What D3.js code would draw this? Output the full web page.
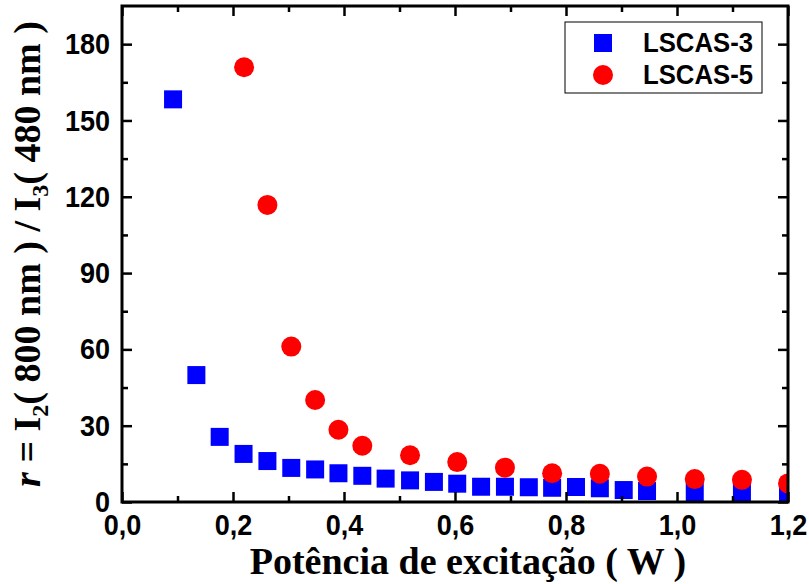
<!DOCTYPE html>
<html>
<head>
<meta charset="utf-8">
<script src="https://cdn.jsdelivr.net/npm/d3@7"></script>
<style>
  html, body { margin: 0; padding: 0; background: #fff; }
  svg { display: block; }
</style>
</head>
<body>
<svg id="chart" width="809" height="584"></svg>
<script>
// ---- data ----
const seriesNames = ["LSCAS-3", "LSCAS-5"];
const x3 = [0.092,0.134,0.176,0.219,0.262,0.305,0.348,0.390,0.433,0.475,0.519,0.562,0.604,0.647,0.690,0.733,0.775,0.818,0.861,0.904,0.946,1.032,1.117,1.200];
const y3 = [158.3,49.9,25.6,18.9,16.1,13.4,12.8,11.3,10.3,9.2,8.5,7.9,7.2,6.0,6.0,5.8,5.6,5.9,5.4,4.7,4.3,3.9,3.7,3.5];
const x5 = [0.220,0.262,0.305,0.348,0.390,0.433,0.519,0.604,0.690,0.775,0.861,0.946,1.032,1.117,1.200];
const y5 = [170.9,116.8,61.1,40.1,28.4,22.1,18.4,15.7,13.5,11.3,11.1,10.0,9.0,8.7,7.3];
const xMajorTicks = [0,0.2,0.4,0.6,0.8,1.0,1.2];
const xMinorTicks = [0.1,0.3,0.5,0.7,0.9,1.1];
const yMajorTicks = [0,30,60,90,120,150,180];
const yMinorTicks = [15,45,75,105,135,165];

// ---- layout ----
const L = 122, R = 788, T = 6, B = 502;
const svg = d3.select("#chart");
const x = d3.scaleLinear().domain([0, 1.2]).range([L, R]);
const y = d3.scaleLinear().domain([0, 195]).range([B, T]);
const fmt = d => d3.format(".1f")(d).replace(".", ",");
const sans = "'Liberation Sans', Arial, sans-serif";
const serif = "'Liberation Serif', 'Times New Roman', serif";

svg.append("defs").append("clipPath").attr("id", "clip")
  .append("rect").attr("x", L).attr("y", T).attr("width", R - L).attr("height", B - T);

// ---- data marks ----
const g = svg.append("g").attr("clip-path", "url(#clip)");
const d3pts = x3.map((v, i) => ({x: v, y: y3[i]}));
const d5pts = x5.map((v, i) => ({x: v, y: y5[i]}));
const sq = 18;
g.selectAll("rect.s3").data(d3pts).join("rect").attr("class", "s3")
  .attr("x", d => x(d.x) - sq / 2).attr("y", d => y(d.y) - sq / 2)
  .attr("width", sq).attr("height", sq).attr("fill", "#0000ff");
g.selectAll("circle.s5").data(d5pts).join("circle").attr("class", "s5")
  .attr("cx", d => x(d.x)).attr("cy", d => y(d.y)).attr("r", 10).attr("fill", "#ff0000");

// ---- axes ----
function styleAxis(sel, labels) {
  sel.select(".domain").remove();
  sel.selectAll(".tick line").attr("stroke", "#000").attr("stroke-width", 2.5);
  if (!labels) { sel.selectAll(".tick text").remove(); return; }
  sel.selectAll(".tick text").attr("font-family", sans).attr("font-weight", "bold")
    .attr("font-size", 30).attr("fill", "#000")
    .each(function() {
      const w = this.getComputedTextLength();
      d3.select(this).attr("textLength", w * 0.9).attr("lengthAdjust", "spacingAndGlyphs");
    });
}
// bottom
styleAxis(svg.append("g").attr("transform", `translate(0,${B})`)
  .call(d3.axisBottom(x).tickValues(xMajorTicks).tickSize(-10).tickPadding(12).tickFormat(fmt)), true);
styleAxis(svg.append("g").attr("transform", `translate(0,${B})`)
  .call(d3.axisBottom(x).tickValues(xMinorTicks).tickSize(-6).tickFormat("")), false);
// top
styleAxis(svg.append("g").attr("transform", `translate(0,${T})`)
  .call(d3.axisTop(x).tickValues(xMajorTicks).tickSize(-10).tickFormat("")), false);
styleAxis(svg.append("g").attr("transform", `translate(0,${T})`)
  .call(d3.axisTop(x).tickValues(xMinorTicks).tickSize(-6).tickFormat("")), false);
// left
styleAxis(svg.append("g").attr("transform", `translate(${L},0)`)
  .call(d3.axisLeft(y).tickValues(yMajorTicks).tickSize(-10).tickPadding(12).tickFormat(d3.format("d"))), true);
styleAxis(svg.append("g").attr("transform", `translate(${L},0)`)
  .call(d3.axisLeft(y).tickValues(yMinorTicks).tickSize(-6).tickFormat("")), false);
// right
styleAxis(svg.append("g").attr("transform", `translate(${R},0)`)
  .call(d3.axisRight(y).tickValues(yMajorTicks).tickSize(-10).tickFormat("")), false);
styleAxis(svg.append("g").attr("transform", `translate(${R},0)`)
  .call(d3.axisRight(y).tickValues(yMinorTicks).tickSize(-6).tickFormat("")), false);

// frame
svg.append("rect").attr("x", L).attr("y", T).attr("width", R - L).attr("height", B - T)
  .attr("fill", "none").attr("stroke", "#000").attr("stroke-width", 3);

// ---- axis titles ----
svg.append("text").attr("x", 468).attr("y", 574).attr("text-anchor", "middle")
  .attr("font-family", serif).attr("font-weight", "bold").attr("font-size", 38)
  .text("Potência de excitação ( W )");

const yt = svg.append("text").attr("transform", "translate(40,254) rotate(-90)")
  .attr("text-anchor", "middle").attr("font-family", serif).attr("font-weight", "bold")
  .attr("font-size", 38);
yt.append("tspan").attr("font-style", "italic").text("r");
yt.append("tspan").text(" = I");
yt.append("tspan").attr("font-size", 24).attr("dy", 8).text("2");
yt.append("tspan").attr("dy", -8).text("( 800 nm ) / I");
yt.append("tspan").attr("font-size", 24).attr("dy", 8).text("3");
yt.append("tspan").attr("dy", -8).text("( 480 nm )");

// ---- legend ----
const lg = svg.append("g");
lg.append("rect").attr("x", 565).attr("y", 22).attr("width", 197).attr("height", 71)
  .attr("fill", "#fff").attr("stroke", "#000").attr("stroke-width", 1);
lg.append("rect").attr("x", 603 - sq / 2).attr("y", 43 - sq / 2).attr("width", sq).attr("height", sq).attr("fill", "#0000ff");
lg.append("circle").attr("cx", 603).attr("cy", 75).attr("r", 10).attr("fill", "#ff0000");
seriesNames.forEach((n, i) => {
  lg.append("text").attr("x", 643).attr("y", 52 + i * 32)
    .attr("font-family", sans).attr("font-weight", "bold").attr("font-size", 28)
    .attr("textLength", 110).attr("lengthAdjust", "spacingAndGlyphs").text(n);
});
</script>
</body>
</html>
